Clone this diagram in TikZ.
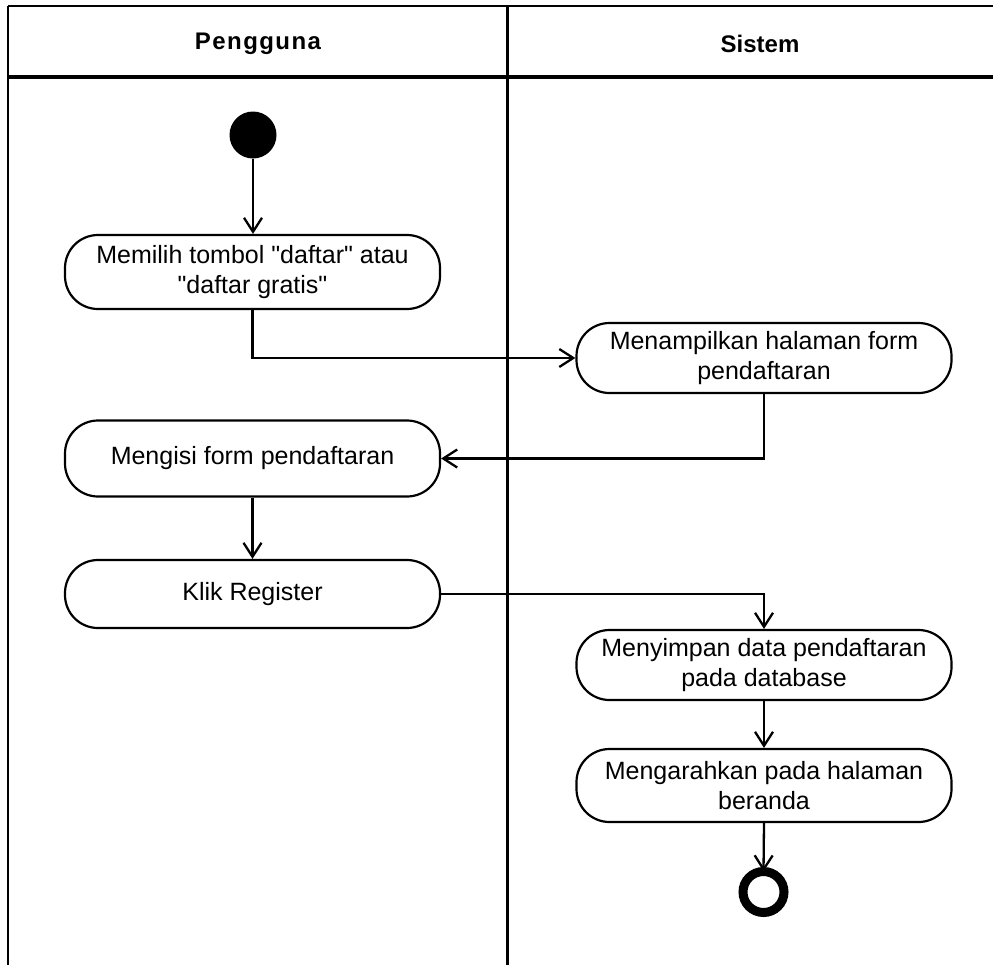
\documentclass[tikz,border=0pt]{standalone}
\usepackage{fontspec}
\setmainfont{Liberation Sans}[Ligatures=TeXOff]
\usetikzlibrary{arrows.meta}
% straight double quote
\newcommand\dq{\char"22\relax}
\begin{document}
\begin{tikzpicture}[x=1pt,y=-1pt,
  action/.style={draw, line width=2.2pt, rounded corners=33pt, minimum width=375pt,
    align=center, font=\fontsize{25}{30}\selectfont, inner sep=0pt},
  flow/.style={line width=2.3pt, -{Straight Barb[length=14pt,width=18pt,line width=2.3pt]}},
  head/.style={font=\fontsize{24}{28}\selectfont\bfseries}
]
\useasboundingbox (0,0) rectangle (993,964);
\begin{scope}
\clip (0,0) rectangle (993,964);
% swimlane frame
\draw[line width=2pt] (8,6) -- (1013,6);
\draw[line width=3.6pt] (8,77) -- (1013,77);
\draw[line width=2pt] (8,6) -- (8,970);
\draw[line width=3pt] (507,6) -- (507,970);
\end{scope}
\node[head] (h1) at (258,44) {\addfontfeature{LetterSpace=6}Pengguna};
\node[head] (h2) at (760,44) {Sistem};

% activity nodes
\node[circle, fill=black, minimum size=47pt, inner sep=0pt] (start) at (253,135) {};
\node[action, minimum height=74pt] (a1) at (252.5,272) {Memilih tombol \dq daftar\dq{} atau\\\dq daftar gratis\dq};
\node[action, minimum height=70pt] (a2) at (764,358) {Menampilkan halaman form\\pendaftaran};
\node[action, minimum height=76pt] (a3) at (252.5,458.5) {Mengisi form pendaftaran};
\node[action, minimum height=68pt] (a4) at (252.5,594) {Klik Register};
\node[action, minimum height=70pt] (a5) at (764,665) {Menyimpan data pendaftaran\\pada database};
\node[action, minimum height=73pt] (a6) at (764,785.5) {Mengarahkan pada halaman\\beranda};
\node[circle, draw, line width=9pt, minimum size=41pt, inner sep=0pt] (end) at (763.5,892) {};

% control flow
\draw[flow] (start) -- (start |- a1.north);
\draw[flow] (a1.south) |- (a2.west);
\draw[flow] (a2.south) |- (a3.east);
\draw[flow] (a3) -- (a4);
\draw[flow] (a4.east) -| (a5.north);
\draw[flow] (a5) -- (a6);
\draw[flow] (a6.south) -- ([yshift=-4.5pt]end.north);
\end{tikzpicture}
\end{document}
